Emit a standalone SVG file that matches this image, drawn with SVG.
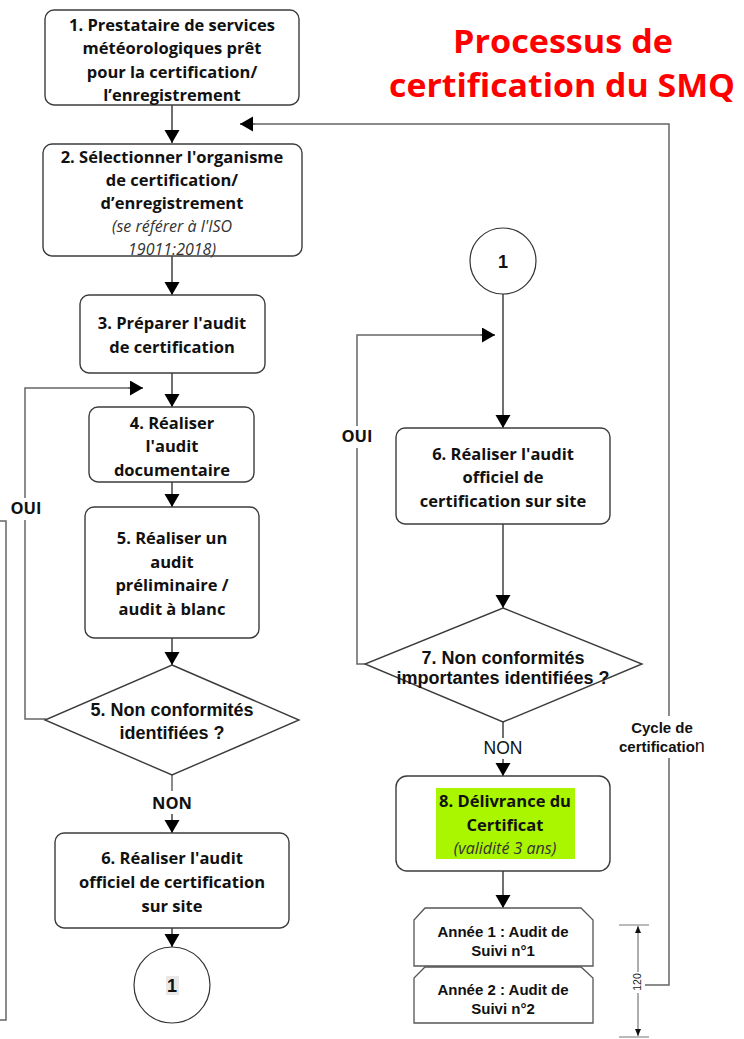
<svg xmlns="http://www.w3.org/2000/svg" width="744" height="1039" viewBox="0 0 744 1039">
<style>
.box{fill:#fff;stroke:#3c3c3c;stroke-width:1.4}
.t{font-family:"Open Sans","Noto Sans",sans-serif;font-weight:bold;font-size:16.5px;fill:#111;text-anchor:middle}
.ti{font-family:"Open Sans","Noto Sans",sans-serif;font-style:italic;font-size:16px;fill:#333;text-anchor:middle}
.a{font-family:"Liberation Sans",Arial,sans-serif;font-weight:bold;font-size:18px;fill:#111;text-anchor:middle}
.s{font-family:"Liberation Sans",Arial,sans-serif;font-weight:bold;font-size:15px;fill:#111;text-anchor:middle}
.c{fill:none;stroke:#111;stroke-width:1.2}
.g{fill:none;stroke:#666;stroke-width:1.5}
.title{font-family:"Open Sans","Noto Sans",sans-serif;font-weight:bold;font-size:33px;fill:#ff0000;text-anchor:middle}
</style>
<defs>
<marker id="ar" markerUnits="userSpaceOnUse" markerWidth="14" markerHeight="16" refX="13" refY="7.5" orient="auto">
<path d="M0,0 L13,7.5 L0,15 z" fill="#000"/>
</marker>
<marker id="sm" markerUnits="userSpaceOnUse" markerWidth="8" markerHeight="8" refX="7" refY="3" orient="auto">
<path d="M0,0 L7,3 L0,6 z" fill="#111"/>
</marker>
</defs>

<g id="title">
<text class="title" x="563" y="53" textLength="220" lengthAdjust="spacingAndGlyphs">Processus de</text>
<text class="title" x="562" y="97" textLength="346" lengthAdjust="spacingAndGlyphs">certification du SMQ</text>
</g>

<g id="connectors">
<path class="c" d="M172,105 V143" marker-end="url(#ar)"/>
<path class="c" d="M172,256 V295" marker-end="url(#ar)"/>
<path class="c" d="M172,373 V407" marker-end="url(#ar)"/>
<path class="c" d="M172,482 V507" marker-end="url(#ar)"/>
<path class="c" d="M172,638 V665" marker-end="url(#ar)"/>
<path class="g" d="M172,775 V791"/>
<path class="c" d="M172,814 V833" marker-end="url(#ar)"/>
<path class="c" d="M172,928 V947" marker-end="url(#ar)"/>
<path class="g" d="M46,719 H25 V388 H128"/>
<path class="c" d="M128,388 H143" marker-end="url(#ar)"/>
<path class="c" d="M503,294 V428" marker-end="url(#ar)"/>
<path class="c" d="M503,524 V608" marker-end="url(#ar)"/>
<path class="c" d="M503,722 V738"/>
<path class="c" d="M503,759 V776" marker-end="url(#ar)"/>
<path class="g" d="M365,664 H357 V335 H480"/>
<path class="c" d="M480,335 H495" marker-end="url(#ar)"/>
<path class="c" d="M503,871 V908" marker-end="url(#ar)"/>
<path class="g" d="M645,985 H669 V124 H256"/>
<path class="c" d="M256,124 H240" marker-end="url(#ar)"/>
<path class="g" d="M0,521 H6 V1020 H0" stroke-width="1.2"/>
<g id="dimension">
<path d="M619,925 H649 M619,1037 H649" stroke="#777" stroke-width="1.2" fill="none"/>
<path d="M638,972 V926" stroke="#777" stroke-width="1.2" fill="none" marker-end="url(#sm)"/>
<path d="M638,993 V1036" stroke="#777" stroke-width="1.2" fill="none" marker-end="url(#sm)"/>
<text x="0" y="0" transform="translate(641,982) rotate(-90)" font-family="Liberation Sans, Arial, sans-serif" font-size="10.5" fill="#222" text-anchor="middle">120</text>
</g>
<rect x="8" y="498" width="38" height="22" fill="#fff"/>
<text class="t" x="26" y="514" font-size="16.5">OUI</text>
<rect x="340" y="426" width="35" height="22" fill="#fff"/>
<text class="t" x="357" y="442" font-size="16.5">OUI</text>
<text class="t" x="172" y="809" font-size="16.5">NON</text>
<text x="503" y="754" font-family="Liberation Sans, Arial, sans-serif" font-size="17.5" fill="#111" text-anchor="middle">NON</text>
<rect x="615" y="716" width="96" height="42" fill="#fff"/>
<text class="s" x="662" y="733">Cycle de</text>
<text x="619" y="752" font-family="Liberation Sans, Arial, sans-serif" font-size="15" fill="#111"><tspan font-weight="bold">certificatio</tspan><tspan font-size="18">n</tspan></text>
</g>

<g id="n1">
<rect class="box" x="45" y="10" width="254" height="95" rx="9"/>
<text class="t" x="172" y="31">1. Prestataire de services</text>
<text class="t" x="172" y="54">météorologiques prêt</text>
<text class="t" x="172" y="78">pour la certification/</text>
<text class="t" x="172" y="101">l’enregistrement</text>
</g>

<g id="n2">
<rect class="box" x="43" y="144" width="259" height="112" rx="9"/>
<text class="t" x="172" y="163">2. Sélectionner l'organisme</text>
<text class="t" x="172" y="186">de certification/</text>
<text class="t" x="172" y="209">d’enregistrement</text>
<text class="ti" x="172" y="232">(se référer à l'ISO</text>
<text class="ti" x="172" y="255">19011:2018)</text>
</g>

<g id="n3">
<rect class="box" x="80" y="295" width="185" height="78" rx="9"/>
<text class="t" x="172" y="329">3. Préparer l'audit</text>
<text class="t" x="172" y="353">de certification</text>
</g>

<g id="n4">
<rect class="box" x="89" y="407" width="165" height="75" rx="9"/>
<text class="t" x="172" y="429">4. Réaliser</text>
<text class="t" x="172" y="452">l'audit</text>
<text class="t" x="172" y="476">documentaire</text>
</g>

<g id="n5">
<rect class="box" x="85" y="507" width="174" height="131" rx="9"/>
<text class="t" x="172" y="544">5. Réaliser un</text>
<text class="t" x="172" y="568">audit</text>
<text class="t" x="172" y="591">préliminaire /</text>
<text class="t" x="172" y="615">audit à blanc</text>
</g>

<g id="d5">
<polygon class="box" points="172,665 299,720 172,775 45,720" stroke="#555" stroke-width="1.2"/>
<text class="a" x="172" y="716">5. Non conformités</text>
<text class="a" x="172" y="739">identifiées ?</text>
</g>

<g id="n6a">
<rect class="box" x="55" y="833" width="234" height="95" rx="9"/>
<text class="t" x="172" y="864">6. Réaliser l'audit</text>
<text class="t" x="172" y="888">officiel de certification</text>
<text class="t" x="172" y="912">sur site</text>
</g>

<g id="c1a">
<circle cx="172" cy="985" r="38" fill="#fff" stroke="#333" stroke-width="1.2"/>
<rect x="166" y="976" width="13" height="19" fill="#e8e8e8"/>
<text class="a" x="172" y="992" font-size="17">1</text>
</g>

<g id="c1b">
<circle cx="503" cy="261" r="33" fill="#fff" stroke="#333" stroke-width="1.2"/>
<text class="a" x="503" y="268" font-size="17">1</text>
</g>

<g id="n6b">
<rect class="box" x="396" y="428" width="214" height="96" rx="9"/>
<text class="t" x="503" y="460">6. Réaliser l'audit</text>
<text class="t" x="503" y="483">officiel de</text>
<text class="t" x="503" y="507">certification sur site</text>
</g>

<g id="d7">
<polygon class="box" points="503,608 642,664 503,722 365,664" stroke="#555" stroke-width="1.2"/>
<text class="a" x="503" y="664" font-size="17.5">7. Non conformités</text>
<text class="a" x="503" y="684" font-size="17.5">importantes identifiées ?</text>
</g>

<g id="n8">
<rect class="box" x="396" y="776" width="214" height="95" rx="11"/>
<rect x="436" y="788" width="139" height="71" fill="#aaf500"/>
<text class="t" x="505" y="807">8. Délivrance du</text>
<text class="t" x="505" y="831">Certificat</text>
<text class="ti" x="505" y="854" fill="#222">(validité 3 ans)</text>
</g>

<g id="y1">
<path d="M425,908 H581 L593,920 V966 H414 V920 Z" fill="#fff" stroke="#555" stroke-width="1.3"/>
<text class="s" x="503" y="937">Année 1 : Audit de</text>
<text class="s" x="503" y="956">Suivi n°1</text>
</g>

<g id="y2">
<path d="M425,967 H581 L593,978 V1023 H414 V978 Z" fill="#fff" stroke="#555" stroke-width="1.3"/>
<text class="s" x="503" y="995">Année 2 : Audit de</text>
<text class="s" x="503" y="1014">Suivi n°2</text>
</g>
</svg>
